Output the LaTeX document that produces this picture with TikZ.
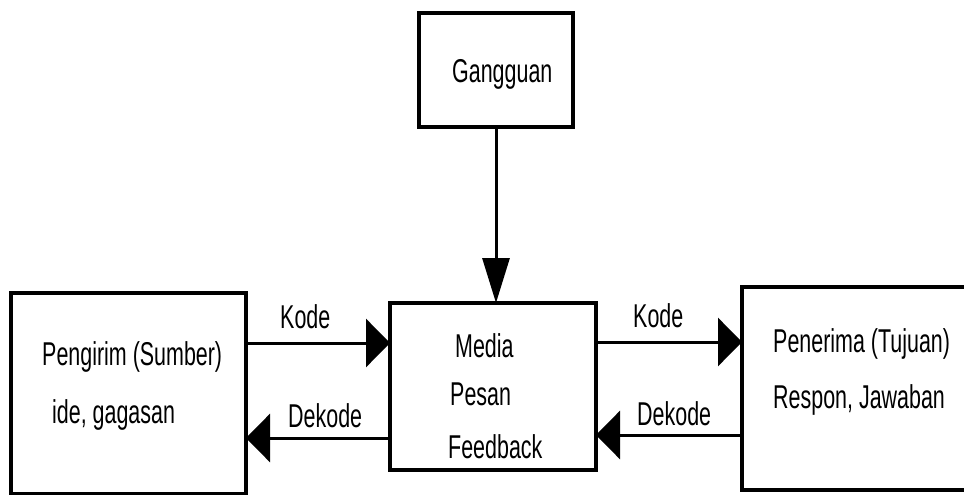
\documentclass[tikz,border=0pt]{standalone}
\usepackage{fontspec}
\setmainfont[FakeStretch=0.65]{Liberation Sans}
\usetikzlibrary{arrows.meta}
\begin{document}
\begin{tikzpicture}[x=1pt,y=-1pt,
  boxnode/.style={draw,line width=3.2pt,rectangle,inner sep=0pt,outer sep=0pt},
  txt/.style={anchor=base west,inner sep=0pt,font=\fontsize{33}{33}\selectfont},
  harr/.style={line width=3pt,-{Triangle[length=24pt,width=48pt]}},
  varr/.style={line width=3pt,-{Triangle[length=45pt,width=27pt]}}]
\useasboundingbox (0,0) rectangle (964,495);
\clip (0,0) rectangle (964,495);
% boxes
\node[boxnode,minimum width=154pt,minimum height=114pt] (gang) at (496,70) {};
\node[boxnode,minimum width=235pt,minimum height=201pt] (sender) at (128.5,393.5) {};
\node[boxnode,minimum width=206pt,minimum height=167pt] (media) at (493,386.5) {};
\node[boxnode,minimum width=258pt,minimum height=203pt] (recv) at (871,388.5) {};
% texts
\node[txt] (tgang) at (452,82) {Gangguan};
\node[txt] (ts1) at (42,365) {Pengirim (Sumber)};
\node[txt] (ts2) at (52,423) {ide, gagasan};
\node[txt] (tm1) at (455,357) {Media};
\node[txt] (tm2) at (450,405) {Pesan};
\node[txt] (tm3) at (448,458) {Feedback};
\node[txt] (tr1) at (773,352) {Penerima (Tujuan)};
\node[txt] (tr2) at (773,408) {Respon, Jawaban};
\node[txt] (lk1) at (280,328) {Kode};
\node[txt] (ld1) at (288,427) {Dekode};
\node[txt] (lk2) at (633,327) {Kode};
\node[txt] (ld2) at (637,425) {Dekode};
% connectors
\draw[varr] (gang.south) -- (gang.south |- media.north);
\draw[harr] (sender.east |- 0,343) -- (media.west |- 0,343);
\draw[harr] (media.west |- 0,438) -- (sender.east |- 0,438);
\draw[harr] (media.east |- 0,342) -- (recv.west |- 0,342);
\draw[harr] (recv.west |- 0,435) -- (media.east |- 0,435);
\end{tikzpicture}
\end{document}
